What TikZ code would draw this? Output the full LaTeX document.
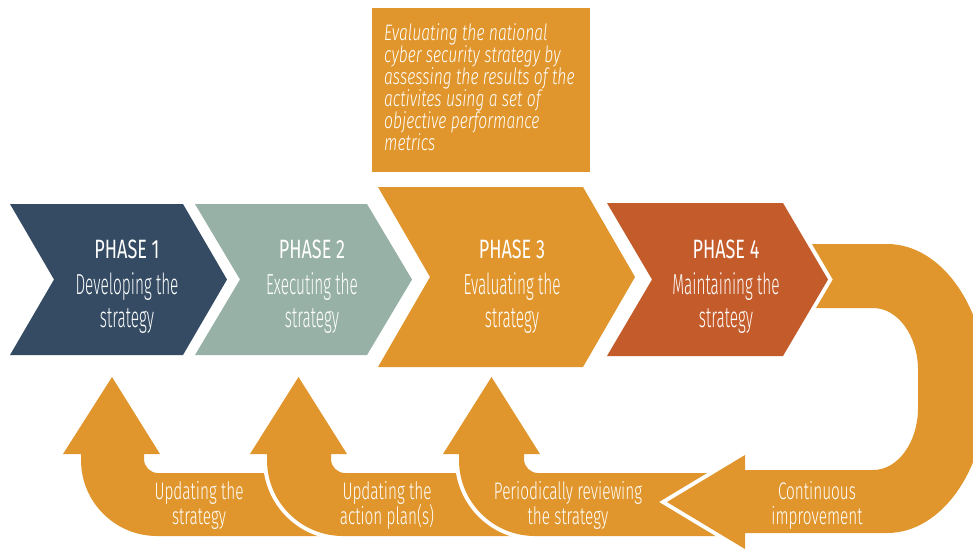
\documentclass[tikz,border=0pt]{standalone}
\usepackage{fontspec}
\setmainfont{Fira Sans Light}[FakeStretch=0.53]
\newfontfamily\myHeadFont{Fira Sans}[FakeStretch=0.68]
\newfontfamily\myBoxFont{Fira Sans Light}[FakeStretch=0.7]
\newfontfamily\myLabelFont{Fira Sans Light}[FakeStretch=0.64]
\definecolor{navy}{HTML}{344B63}
\definecolor{sage}{HTML}{97B1A6}
\definecolor{amber}{HTML}{E0962C}
\definecolor{rust}{HTML}{C45B2B}
\newcommand\myTightLines{\lineskiplimit=-50pt\relax}
\newcommand\myHead[1]{{\myHeadFont\fontsize{26.5}{33}\selectfont #1}}
\begin{document}
\begin{tikzpicture}[x=1pt,y=-1pt,
  halo/.style={preaction={draw=white,line width=8pt,line join=miter}},
  ptext/.style={align=center,anchor=north,inner sep=0pt,text=white,
    font={\fontsize{29}{33}\selectfont\myTightLines}},
  btext/.style={align=center,anchor=north,inner sep=0pt,text=white,
    font={\myLabelFont\fontsize{24}{25}\selectfont\myTightLines}},
  etext/.style={align=left,anchor=north west,inner sep=0pt,text=white,
    font={\myBoxFont\fontsize{22.4}{22}\selectfont\itshape\myTightLines}},
  ebox/.style={fill=amber,minimum width=218pt,minimum height=164pt,inner sep=0pt}]
\useasboundingbox (0,0) rectangle (973,550);
\clip (0,0) rectangle (973,550);

% bottom feedback arrows
\fill[halo,amber] (112,377) -- (160,454) -- (144,454) -- (144,459)
  .. controls (144,466.7) and (150.3,473) .. (158,473) -- (350,473) -- (350,536)
  -- (157,536) .. controls (115,536) and (81,502) .. (81,460) -- (81,454) -- (63,454) -- cycle;
\fill[halo,amber] (298.5,377) -- (347,454) -- (331,454) -- (331,459)
  .. controls (331,466.7) and (337.3,473) .. (345,473) -- (545,473) -- (545,536)
  -- (343,536) .. controls (301,536) and (267,502) .. (267,460) -- (267,454) -- (250,454) -- cycle;
\fill[halo,amber] (491.5,377) -- (540,454) -- (524,454) -- (524,459)
  .. controls (524,466.7) and (530.3,473) .. (538,473) -- (740,473) -- (740,536)
  -- (535,536) .. controls (493,536) and (459,502) .. (459,460) -- (459,454) -- (443,454) -- cycle;

% continuous improvement U arrow
\fill[halo,amber] (790,244) -- (887,244) .. controls (942.2,244) and (987,308.8) .. (987,388.5)
  .. controls (987,468.3) and (942.2,533) .. (887,533) -- (745,533) -- (745,549) -- (667,502)
  -- (745,455) -- (745,470) -- (873,470) .. controls (897.9,470) and (918,442.2) .. (918,408)
  -- (918,370) .. controls (918,335.8) and (897.9,308) .. (873,308) -- (790,308) -- cycle;

% phases
\fill[halo,navy] (10,204) -- (183,204) -- (227,279.5) -- (183,355) -- (10,355) -- (54,279.5) -- cycle;
\fill[halo,sage] (195,204) -- (367,204) -- (412,279.5) -- (367,355) -- (195,355) -- (240,279.5) -- cycle;
\fill[halo,amber] (378,187) -- (583,187) -- (635,277) -- (583,367) -- (378,367) -- (430,277) -- cycle;
\fill[halo,rust] (607,203) -- (783,203) -- (828,279.5) -- (783,356) -- (607,356) -- (652,279.5) -- cycle;

\node[ptext] (p1) at (127,236) {\rule{0pt}{22pt}\myHead{PHASE 1}\\[3pt]Developing the\\strategy};
\node[ptext] (p2) at (312,236) {\rule{0pt}{22pt}\myHead{PHASE 2}\\[3pt]Executing the\\strategy};
\node[ptext] (p3) at (512,236) {\rule{0pt}{22pt}\myHead{PHASE 3}\\[3pt]Evaluating the\\strategy};
\node[ptext] (p4) at (726,236) {\rule{0pt}{22pt}\myHead{PHASE 4}\\[3pt]Maintaining the\\strategy};

% evaluation box
\node[ebox] (evalbox) at (481,90) {};
\node[etext] (evaltext) at (384,22) {\rule{0pt}{18pt}Evaluating the national\\cyber security strategy by\\assessing the results of the\\activites using a set of\\objective performance\\metrics};

% bottom labels
\node[btext] (b1) at (199,479) {\rule{0pt}{20pt}Updating the\\strategy};
\node[btext] (b2) at (387,479) {\rule{0pt}{20pt}Updating the\\action plan(s)};
\node[btext] (b3) at (568,479) {\rule{0pt}{20pt}Periodically reviewing\\the strategy};
\node[btext] (b4) at (817,479) {\rule{0pt}{20pt}Continuous\\improvement};
\end{tikzpicture}
\end{document}
